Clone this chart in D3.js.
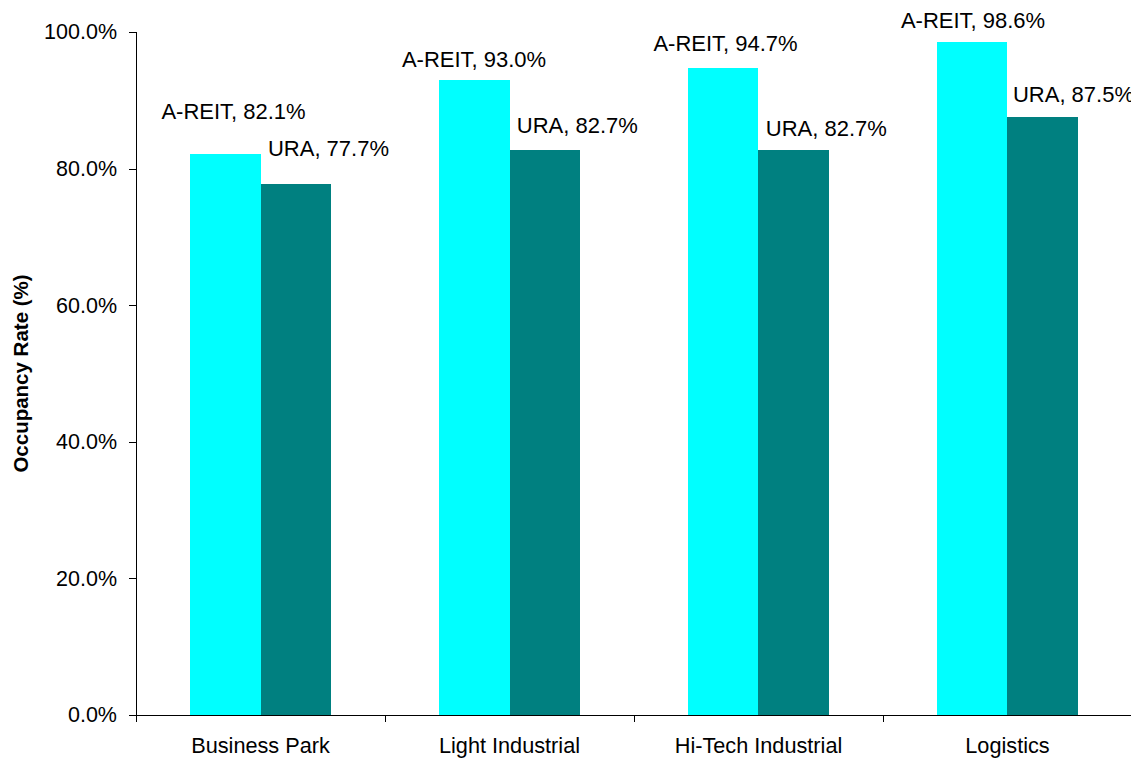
<!DOCTYPE html>
<html>
<head>
<meta charset="utf-8">
<script src="https://cdn.jsdelivr.net/npm/d3@7"></script>
<style>
  html, body { margin: 0; padding: 0; background: #fff; overflow: hidden; }
  svg { display: block; font-family: "Liberation Sans", Arial, sans-serif; }
</style>
</head>
<body>
<svg id="chart" width="1131" height="758"></svg>
<script>
// ---- data ----
const categories = ["Business Park", "Light Industrial", "Hi-Tech Industrial", "Logistics"];
const seriesNames = ["A-REIT", "URA"];
const areitValues = [82.1, 93.0, 94.7, 98.6];
const uraValues = [77.7, 82.7, 82.7, 87.5];
const yTicks = [0, 20, 40, 60, 80, 100];
const yTitle = "Occupancy Rate (%)";

// ---- layout ----
const plotLeft = 136, plotRight = 1132, plotTop = 32, plotBottom = 715;
const colors = { "A-REIT": "#00FFFF", "URA": "#008080" };
// manual label nudges (dx, dy from bar top) mimicking the reference placement
const labelNudge = {
  "A-REIT": [[8.5, -35], [0, -13.3], [2.5, -17], [1, -13.4]],
  "URA": [[32.5, -28], [32.3, -17.3], [32.3, -14.3], [30.5, -15.7]]
};

const svg = d3.select("#chart");

const x0 = d3.scaleBand().domain(categories).range([plotLeft, plotRight])
  .paddingInner(0.43).paddingOuter(0.215);
const x1 = d3.scaleBand().domain(seriesNames).range([0, x0.bandwidth()]).padding(0);
const y = d3.scaleLinear().domain([0, 100]).range([plotBottom, plotTop]);

const rows = categories.map((c, i) => ({
  cat: c, idx: i,
  vals: [
    { s: "A-REIT", v: areitValues[i] },
    { s: "URA", v: uraValues[i] }
  ]
}));

// bars
const g = svg.append("g");
const grp = g.selectAll("g.cat").data(rows).join("g")
  .attr("transform", d => `translate(${x0(d.cat)},0)`);
grp.selectAll("rect").data(d => d.vals.map(v => ({...v, idx: d.idx}))).join("rect")
  .attr("x", d => x1(d.s))
  .attr("y", d => y(d.v))
  .attr("width", x1.bandwidth())
  .attr("height", d => y(0) - y(d.v))
  .attr("fill", d => colors[d.s])
  .attr("shape-rendering", "crispEdges");

// labels
grp.selectAll("text.lbl").data(d => d.vals.map(v => ({...v, idx: d.idx}))).join("text")
  .attr("class", "lbl")
  .attr("x", d => x1(d.s) + x1.bandwidth() / 2 + labelNudge[d.s][d.idx][0])
  .attr("y", d => y(d.v) + labelNudge[d.s][d.idx][1])
  .attr("text-anchor", "middle")
  .attr("font-size", "22px")
  .attr("fill", "#000")
  .text(d => `${d.s}, ${d.v.toFixed(1)}%`);

// y axis
const yAxis = d3.axisLeft(y).tickValues(yTicks).tickSize(7).tickPadding(12)
  .tickFormat(d => d.toFixed(1) + "%");
const ya = svg.append("g").attr("transform", `translate(${plotLeft},0)`).call(yAxis);
ya.select(".domain").attr("stroke", "#000").attr("shape-rendering", "crispEdges");
ya.selectAll(".tick line").attr("stroke", "#000").attr("shape-rendering", "crispEdges");
ya.selectAll(".tick text").attr("font-size", "21.5px").attr("fill", "#000")
  .attr("font-family", "'Liberation Sans', Arial, sans-serif");

// x axis
const xa = svg.append("g").attr("transform", `translate(0,${plotBottom})`);
xa.append("line").attr("x1", plotLeft).attr("x2", plotRight).attr("y1", 0).attr("y2", 0)
  .attr("stroke", "#000").attr("shape-rendering", "crispEdges");
const boundaries = categories.map(c => x0(c) - x0.step() * x0.paddingOuter());
xa.selectAll("line.tk").data(boundaries).join("line")
  .attr("class", "tk")
  .attr("x1", d => d).attr("x2", d => d)
  .attr("y1", 0).attr("y2", 7)
  .attr("stroke", "#000").attr("shape-rendering", "crispEdges");
xa.selectAll("text.cat").data(categories).join("text")
  .attr("class", "cat")
  .attr("x", d => x0(d) + x0.bandwidth() / 2)
  .attr("y", 38)
  .attr("text-anchor", "middle")
  .attr("font-size", "21.7px")
  .attr("fill", "#000")
  .text(d => d);

// y title
svg.append("text")
  .attr("transform", `translate(28,${(plotTop + plotBottom) / 2}) rotate(-90)`)
  .attr("text-anchor", "middle")
  .attr("font-size", "20.5px")
  .attr("font-weight", "bold")
  .attr("fill", "#000")
  .text(yTitle);
</script>
</body>
</html>
